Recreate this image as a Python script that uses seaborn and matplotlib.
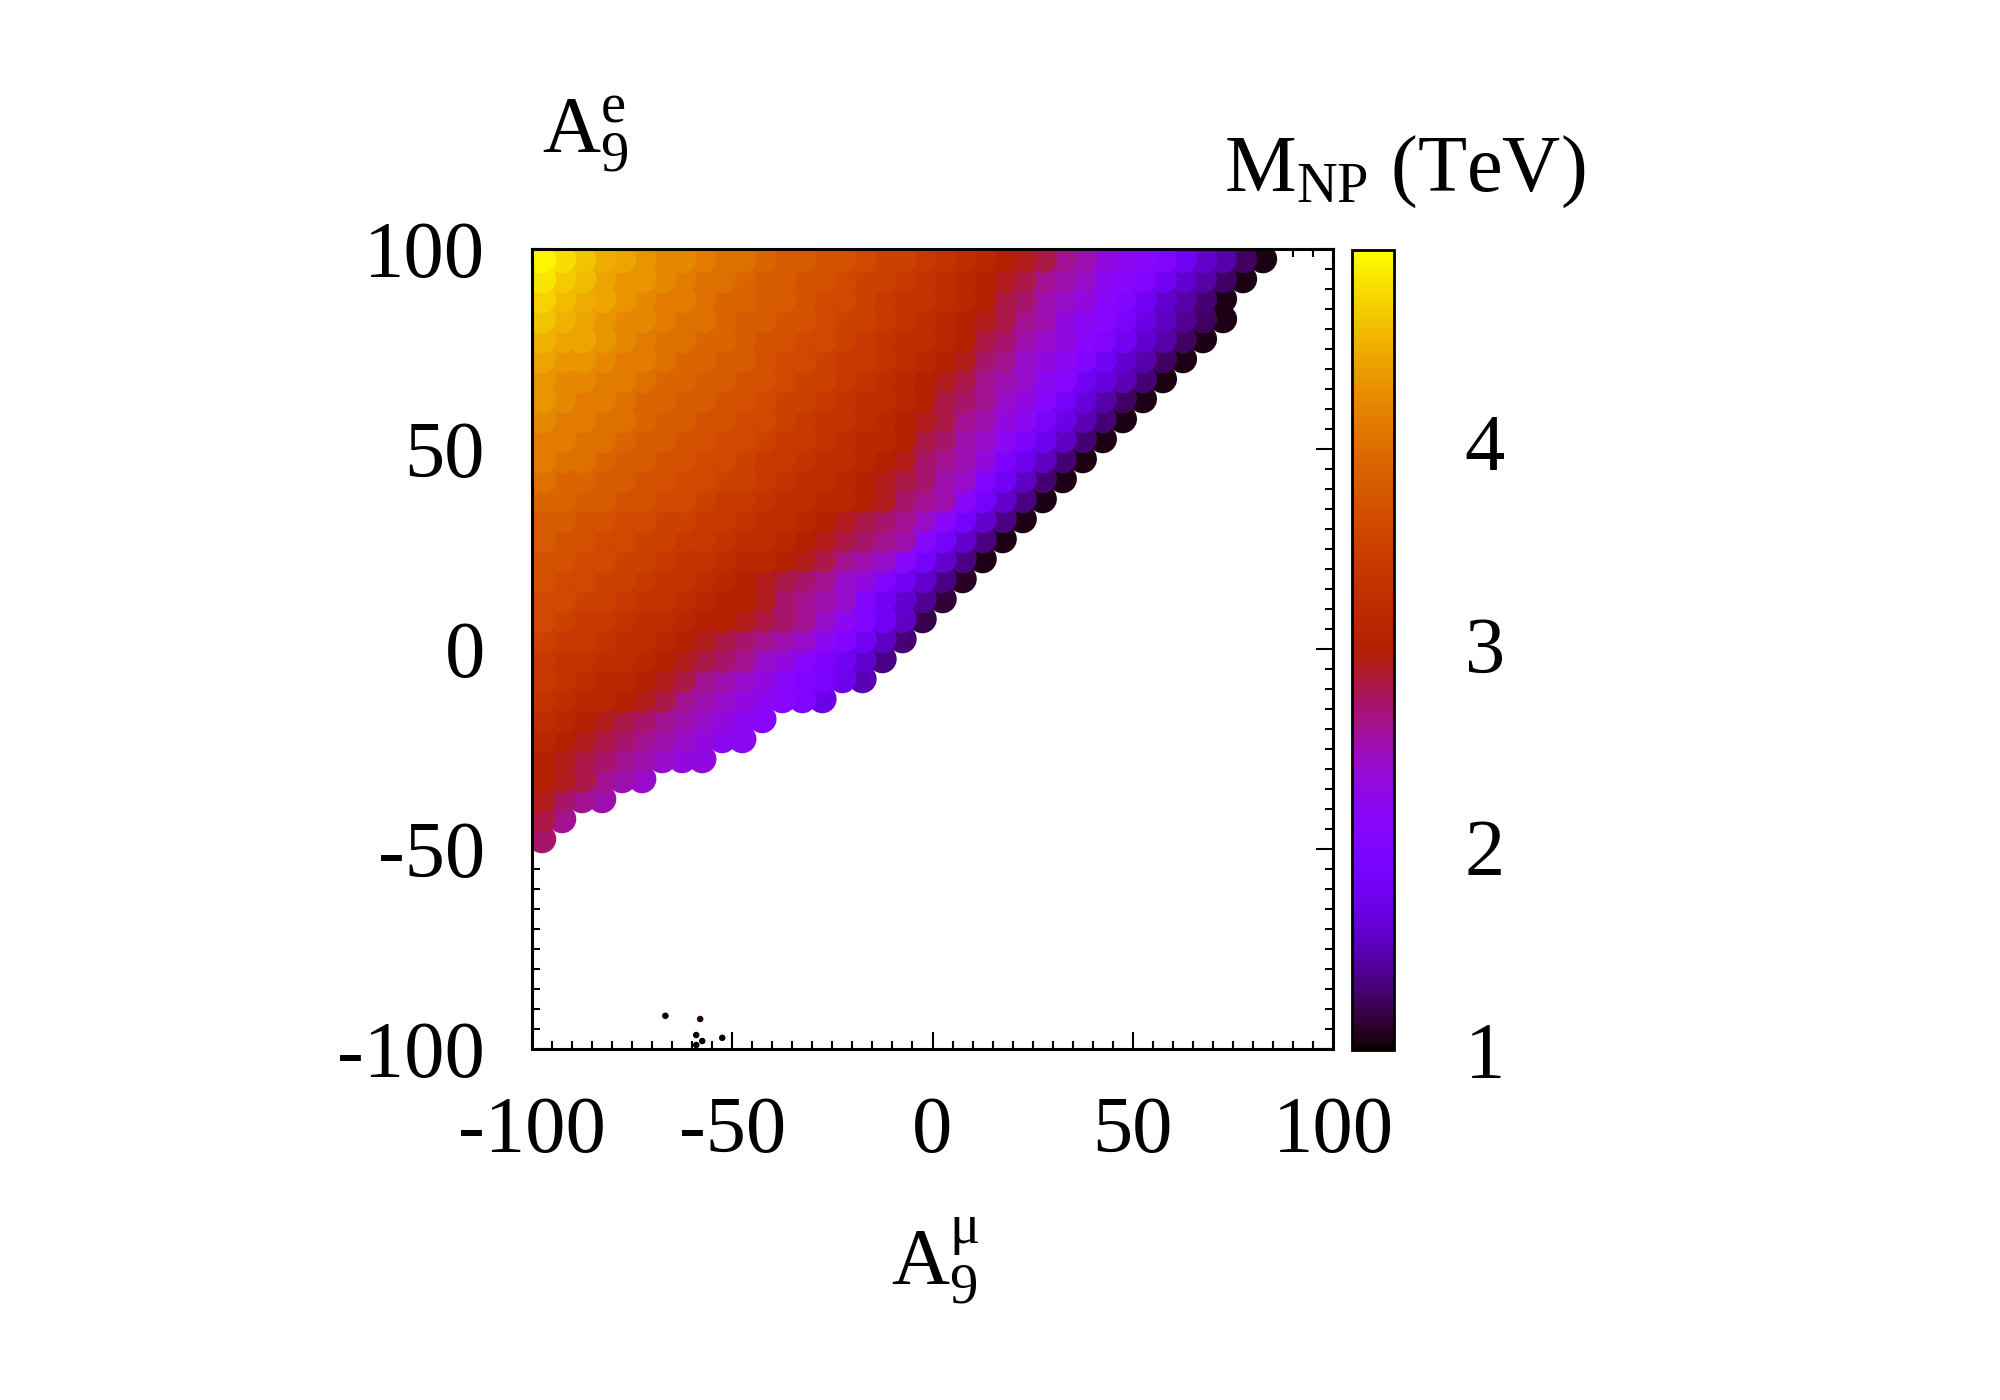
import pandas as pd
import seaborn as sns
import matplotlib.pyplot as plt
from matplotlib.colors import Normalize
from matplotlib.cm import ScalarMappable
from matplotlib.ticker import MultipleLocator

# Scan cells: A9^mu column centres, A9^e row centres,
# and the M_NP colour (TeV) in each filled cell (rows run left to right,
# stopping at the right-hand edge of the allowed region)
x_cols = [-97.5, -92.5, -87.5, -82.5, -77.5, -72.5, -67.5, -62.5, -57.5, -52.5,
          -47.5, -42.5, -37.5, -32.5, -27.5, -22.5, -17.5, -12.5, -7.5, -2.5,
          2.5, 7.5, 12.5, 17.5, 22.5, 27.5, 32.5, 37.5, 42.5, 47.5,
          52.5, 57.5, 62.5, 67.5, 72.5, 77.5, 82.5, 87.5, 92.5, 97.5]

y_rows = [97.5, 92.5, 87.5, 82.5, 77.5, 72.5, 67.5, 62.5, 57.5, 52.5,
          47.5, 42.5, 37.5, 32.5, 27.5, 22.5, 17.5, 12.5, 7.5, 2.5,
          -2.5, -7.5, -12.5, -17.5, -22.5, -27.5, -32.5, -37.5, -42.5, -47.5]

m_rows = [
    [4.9, 4.75, 4.6, 4.45, 4.4, 4.3, 4.2, 4.2, 4.1, 4.0, 4.0, 3.9, 3.8, 3.8, 3.7, 3.7, 3.6, 3.5, 3.5, 3.4,
     3.3, 3.2, 3.1, 3.0, 2.9, 2.8, 2.6, 2.5, 2.3, 2.2, 2.1, 2.0, 1.8, 1.6, 1.45, 1.25, 1.05],
    [4.8, 4.65, 4.55, 4.4, 4.3, 4.3, 4.2, 4.1, 4.0, 4.0, 3.9, 3.8, 3.8, 3.7, 3.7, 3.6, 3.5, 3.5, 3.4, 3.3,
     3.2, 3.1, 3.0, 2.9, 2.8, 2.6, 2.5, 2.4, 2.2, 2.1, 2.0, 1.8, 1.6, 1.45, 1.25, 1.05],
    [4.7, 4.55, 4.45, 4.4, 4.3, 4.2, 4.1, 4.1, 4.0, 3.9, 3.9, 3.8, 3.8, 3.7, 3.6, 3.6, 3.5, 3.4, 3.3, 3.3,
     3.2, 3.1, 3.0, 2.8, 2.7, 2.5, 2.4, 2.3, 2.1, 2.0, 1.8, 1.6, 1.45, 1.3, 1.05],
    [4.6, 4.5, 4.4, 4.3, 4.2, 4.2, 4.1, 4.0, 4.0, 3.9, 3.8, 3.8, 3.7, 3.7, 3.6, 3.5, 3.5, 3.4, 3.3, 3.2,
     3.1, 3.0, 2.9, 2.8, 2.6, 2.5, 2.3, 2.2, 2.1, 1.9, 1.7, 1.55, 1.4, 1.25, 1.05],
    [4.5, 4.4, 4.4, 4.3, 4.2, 4.1, 4.0, 4.0, 3.9, 3.9, 3.8, 3.7, 3.7, 3.6, 3.6, 3.5, 3.4, 3.3, 3.2, 3.2,
     3.1, 3.0, 2.8, 2.7, 2.5, 2.4, 2.3, 2.1, 2.0, 1.8, 1.6, 1.45, 1.25, 1.05],
    [4.4, 4.3, 4.3, 4.2, 4.1, 4.1, 4.0, 3.9, 3.9, 3.8, 3.8, 3.7, 3.6, 3.6, 3.5, 3.4, 3.4, 3.3, 3.2, 3.1,
     3.0, 2.9, 2.7, 2.6, 2.4, 2.3, 2.2, 2.0, 1.8, 1.6, 1.45, 1.25, 1.05],
    [4.3, 4.2, 4.2, 4.1, 4.1, 4.0, 3.9, 3.9, 3.8, 3.8, 3.7, 3.7, 3.6, 3.5, 3.5, 3.4, 3.3, 3.2, 3.1, 3.0,
     2.9, 2.8, 2.6, 2.5, 2.4, 2.2, 2.1, 1.8, 1.65, 1.5, 1.3, 1.05],
    [4.3, 4.2, 4.1, 4.1, 4.0, 3.9, 3.9, 3.8, 3.8, 3.7, 3.7, 3.6, 3.5, 3.5, 3.4, 3.3, 3.2, 3.2, 3.1, 3.0,
     2.8, 2.7, 2.6, 2.4, 2.3, 2.1, 1.85, 1.65, 1.45, 1.25, 1.05],
    [4.2, 4.1, 4.1, 4.0, 4.0, 3.9, 3.8, 3.8, 3.7, 3.7, 3.6, 3.6, 3.5, 3.4, 3.3, 3.3, 3.2, 3.1, 3.0, 2.9,
     2.8, 2.6, 2.5, 2.3, 2.2, 1.9, 1.7, 1.5, 1.3, 1.05],
    [4.1, 4.1, 4.0, 4.0, 3.9, 3.8, 3.8, 3.7, 3.7, 3.6, 3.6, 3.5, 3.4, 3.4, 3.3, 3.2, 3.1, 3.1, 3.0, 2.8,
     2.7, 2.5, 2.4, 2.2, 1.95, 1.75, 1.55, 1.3, 1.05],
    [4.1, 4.0, 4.0, 3.9, 3.8, 3.8, 3.7, 3.7, 3.6, 3.6, 3.5, 3.4, 3.4, 3.3, 3.2, 3.2, 3.1, 3.0, 2.9, 2.7,
     2.6, 2.5, 2.3, 1.95, 1.75, 1.55, 1.3, 1.05],
    [4.0, 3.9, 3.9, 3.8, 3.8, 3.7, 3.7, 3.6, 3.6, 3.5, 3.5, 3.4, 3.3, 3.2, 3.2, 3.1, 3.0, 2.9, 2.8, 2.7,
     2.5, 2.4, 2.0, 1.8, 1.55, 1.3, 1.05],
    [3.9, 3.9, 3.8, 3.8, 3.7, 3.7, 3.6, 3.6, 3.5, 3.4, 3.4, 3.3, 3.2, 3.2, 3.1, 3.1, 3.0, 2.9, 2.7, 2.6,
     2.5, 2.1, 1.85, 1.6, 1.35, 1.05],
    [3.8, 3.8, 3.7, 3.7, 3.6, 3.6, 3.5, 3.5, 3.4, 3.4, 3.3, 3.2, 3.2, 3.1, 3.0, 2.9, 2.8, 2.7, 2.6, 2.4,
     2.1, 1.85, 1.6, 1.35, 1.05],
    [3.8, 3.7, 3.7, 3.6, 3.6, 3.5, 3.5, 3.4, 3.4, 3.3, 3.2, 3.2, 3.1, 3.0, 2.9, 2.8, 2.7, 2.6, 2.5, 2.1,
     1.85, 1.6, 1.35, 1.05],
    [3.7, 3.7, 3.6, 3.6, 3.5, 3.5, 3.4, 3.3, 3.3, 3.2, 3.1, 3.1, 3.0, 2.9, 2.8, 2.6, 2.5, 2.4, 2.1, 1.85,
     1.6, 1.35, 1.05],
    [3.7, 3.6, 3.6, 3.5, 3.5, 3.4, 3.3, 3.3, 3.2, 3.1, 3.0, 2.9, 2.8, 2.7, 2.6, 2.4, 2.3, 2.0, 1.8, 1.6,
     1.35, 1.1],
    [3.6, 3.6, 3.5, 3.5, 3.4, 3.3, 3.3, 3.2, 3.1, 3.0, 3.0, 2.9, 2.7, 2.6, 2.5, 2.4, 2.0, 1.8, 1.6, 1.4,
     1.15],
    [3.6, 3.5, 3.4, 3.4, 3.3, 3.2, 3.2, 3.1, 3.0, 3.0, 2.9, 2.8, 2.7, 2.6, 2.4, 2.2, 2.0, 1.8, 1.55, 1.2],
    [3.5, 3.4, 3.4, 3.3, 3.2, 3.2, 3.1, 3.0, 2.9, 2.8, 2.7, 2.6, 2.5, 2.4, 2.2, 2.0, 1.8, 1.55, 1.3],
    [3.4, 3.3, 3.3, 3.2, 3.2, 3.1, 3.0, 2.9, 2.8, 2.7, 2.6, 2.4, 2.3, 2.1, 1.95, 1.8, 1.6, 1.35],
    [3.4, 3.3, 3.2, 3.1, 3.1, 3.0, 2.9, 2.8, 2.6, 2.5, 2.4, 2.3, 2.1, 2.0, 1.9, 1.75, 1.5],
    [3.3, 3.2, 3.1, 3.1, 3.0, 2.9, 2.8, 2.6, 2.5, 2.4, 2.3, 2.2, 2.1, 2.0, 1.7],
    [3.2, 3.1, 3.0, 2.9, 2.8, 2.7, 2.6, 2.5, 2.4, 2.3, 2.2, 2.1],
    [3.1, 3.0, 2.9, 2.8, 2.7, 2.6, 2.5, 2.4, 2.3, 2.2, 2.2],
    [3.0, 2.9, 2.8, 2.7, 2.6, 2.5, 2.4, 2.3, 2.3],
    [3.0, 2.9, 2.8, 2.6, 2.5, 2.4],
    [2.9, 2.7, 2.6, 2.5],
    [2.8, 2.6],
    [2.7],
]

# the few isolated points near the bottom of the plot
iso_mu = [-66.7, -58.0, -59.0, -57.5, -52.5, -59.0]
iso_e = [-91.7, -92.5, -96.5, -98.0, -97.2, -99.0]
iso_m = [1.0, 1.05, 1.0, 1.0, 1.0, 1.0]

m_min, m_max = 1.0, 4.95

records = []
for y, row in zip(y_rows, m_rows):
    for x, m in zip(x_cols, row):
        records.append((x, y, m))
scan_df = pd.DataFrame(records, columns=['A9mu', 'A9e', 'M_NP'])
# low masses first so the dark rim sits under its neighbours
scan_df = scan_df.sort_values('M_NP', kind='stable')
iso_df = pd.DataFrame({'A9mu': iso_mu, 'A9e': iso_e, 'M_NP': iso_m})

sns.set_theme(style='white')
plt.rcParams['font.family'] = ['Liberation Serif', 'DejaVu Serif']
plt.rcParams['mathtext.fontset'] = 'custom'
plt.rcParams['mathtext.rm'] = 'Liberation Serif'
plt.rcParams['mathtext.it'] = 'Liberation Serif:italic'
plt.rcParams['axes.unicode_minus'] = False
plt.rcParams['text.color'] = 'black'
plt.rcParams['xtick.color'] = 'black'
plt.rcParams['ytick.color'] = 'black'
plt.rcParams['axes.labelcolor'] = 'black'

fig = plt.figure(figsize=(20, 14), dpi=100)
ax = fig.add_axes([0.266, 0.2507, 0.4005, 0.5714])

sns.scatterplot(data=scan_df, x='A9mu', y='A9e', hue='M_NP', palette='gnuplot',
                hue_norm=(m_min, m_max), s=420, linewidth=0, marker='o',
                legend=False, ax=ax)
sns.scatterplot(data=iso_df, x='A9mu', y='A9e', hue='M_NP', palette='gnuplot',
                hue_norm=(m_min, m_max), s=22, linewidth=0, marker='o',
                legend=False, ax=ax)

ax.set_xlim(-100, 100)
ax.set_ylim(-100, 100)
ax.set_xlabel('')
ax.set_ylabel('')
ax.xaxis.set_major_locator(MultipleLocator(50))
ax.yaxis.set_major_locator(MultipleLocator(50))
ax.xaxis.set_minor_locator(MultipleLocator(5))
ax.yaxis.set_minor_locator(MultipleLocator(5))
ax.tick_params(which='both', direction='in', top=True, right=True,
               bottom=True, left=True, color='black', width=1.5)
ax.tick_params(which='major', length=12, labelsize=58, labelcolor='black')
ax.tick_params(which='minor', length=6)
ax.tick_params(axis='x', which='major', pad=34)
ax.tick_params(axis='y', which='major', pad=34)
for sp in ax.spines.values():
    sp.set_color('black')
    sp.set_linewidth(2.2)

# colour box
cax = fig.add_axes([0.676, 0.25, 0.021, 0.5714])
sm = ScalarMappable(norm=Normalize(m_min, m_max), cmap='gnuplot')
cbar = fig.colorbar(sm, cax=cax, ticks=[1, 2, 3, 4])
cbar.ax.minorticks_off()
cbar.ax.tick_params(direction='in', length=13, width=1.5, color='black',
                    left=True, right=True, labelsize=58, labelcolor='black',
                    pad=51)
cbar.outline.set_linewidth(2)
cbar.outline.set_edgecolor('black')

fig.text(0.2925, 0.8907, r'$\mathregular{A_9^e}$', fontsize=58,
         ha='center', va='baseline', color='black')
fig.text(0.4675, 0.0821, r'$\mathregular{A_9^{μ}}$', fontsize=58,
         ha='center', va='baseline', color='black')
fig.text(0.7025, 0.864, r'$\mathregular{M_{NP}}$ (TeV)', fontsize=58,
         ha='center', va='baseline', color='black')

fig.savefig('out.png', dpi=100)
